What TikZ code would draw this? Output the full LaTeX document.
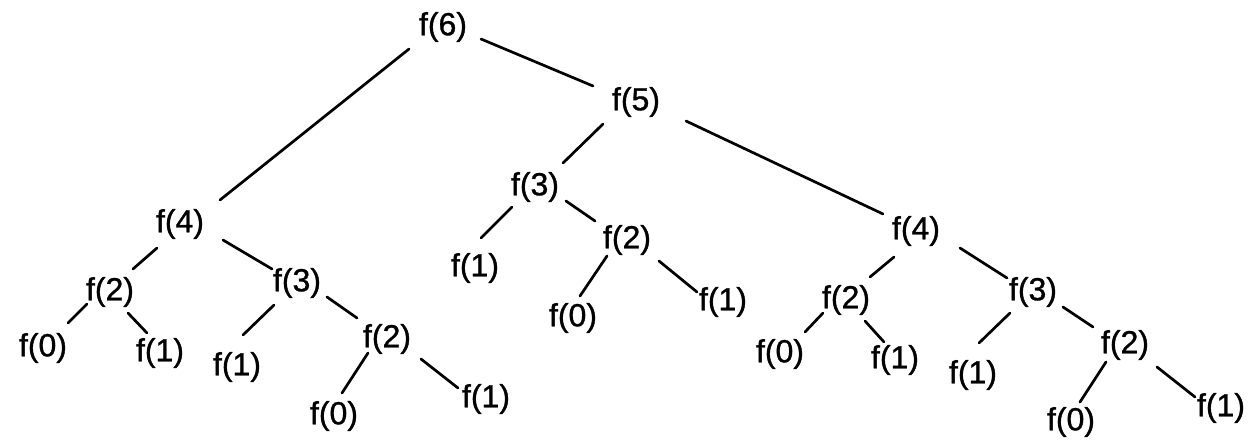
\documentclass[tikz,border=0pt]{standalone}
\usepackage{fontspec}
\setmainfont{Liberation Sans}
\newfontfamily\heavyfont[FakeBold=1]{Liberation Sans}
\begin{document}
\begin{tikzpicture}[x=1pt,y=-1pt,
  fn/.style={inner sep=0pt,outer sep=0pt,font=\heavyfont\fontsize{32}{38}\selectfont},
  edge/.style={line width=2.7pt,line cap=round}]
\useasboundingbox[fill=white] (0,0) rectangle (1255,442);
% nodes
\node[fn] (n6) at (443,27) {f(6)};
\node[fn] (n5) at (636,102) {f(5)};
\node[fn] (a4) at (180,224) {f(4)};
\node[fn] (a2) at (110,292) {f(2)};
\node[fn] (a3) at (297,283) {f(3)};
\node[fn] (a20) at (43,348) {f(0)};
\node[fn] (a21) at (160,353) {f(1)};
\node[fn] (a31) at (237,367) {f(1)};
\node[fn] (a32) at (387,339) {f(2)};
\node[fn] (a320) at (334,416) {f(0)};
\node[fn] (a321) at (486,399) {f(1)};
\node[fn] (b3) at (535,187) {f(3)};
\node[fn] (b31) at (475,268) {f(1)};
\node[fn] (b32) at (627,240) {f(2)};
\node[fn] (b320) at (573,318) {f(0)};
\node[fn] (b321) at (723,302) {f(1)};
\node[fn] (c4) at (916,231) {f(4)};
\node[fn] (c2) at (846,300) {f(2)};
\node[fn] (c20) at (780,354) {f(0)};
\node[fn] (c21) at (895,360) {f(1)};
\node[fn] (c3) at (1033,292) {f(3)};
\node[fn] (c31) at (973,375) {f(1)};
\node[fn] (c32) at (1125,345) {f(2)};
\node[fn] (c320) at (1071,422) {f(0)};
\node[fn] (c321) at (1221,408) {f(1)};
% connectors
\draw[edge] ([shift={(-34,22)}]n6.center) -- ([shift={(40,-24)}]a4.center);
\draw[edge] ([shift={(38,12)}]n6.center) -- ([shift={(-43,-16)}]n5.center);
\draw[edge] ([shift={(-23,24)}]a4.center) -- ([shift={(23,-23)}]a2.center);
\draw[edge] ([shift={(43,16)}]a4.center) -- ([shift={(-25,-14)}]a3.center);
\draw[edge] ([shift={(-23,12)}]a2.center) -- ([shift={(25,-25)}]a20.center);
\draw[edge] ([shift={(18,21)}]a2.center) -- ([shift={(-13,-20)}]a21.center);
\draw[edge] ([shift={(-23,22)}]a3.center) -- ([shift={(6,-32)}]a31.center);
\draw[edge] ([shift={(30,14)}]a3.center) -- ([shift={(-30,-21)}]a32.center);
\draw[edge] ([shift={(-19,14)}]a32.center) -- ([shift={(8,-23)}]a320.center);
\draw[edge] ([shift={(34,20)}]a32.center) -- ([shift={(-28,-11)}]a321.center);
\draw[edge] ([shift={(-33,22)}]n5.center) -- ([shift={(28,-24)}]b3.center);
\draw[edge] ([shift={(50,19)}]n5.center) -- ([shift={(-33,-17)}]c4.center);
\draw[edge] ([shift={(-23,20)}]b3.center) -- ([shift={(6,-30)}]b31.center);
\draw[edge] ([shift={(31,14)}]b3.center) -- ([shift={(-32,-19)}]b32.center);
\draw[edge] ([shift={(-20,16)}]b32.center) -- ([shift={(7,-22)}]b320.center);
\draw[edge] ([shift={(32,21)}]b32.center) -- ([shift={(-26,-10)}]b321.center);
\draw[edge] ([shift={(-22,26)}]c4.center) -- ([shift={(24,-23)}]c2.center);
\draw[edge] ([shift={(44,17)}]c4.center) -- ([shift={(-26,-14)}]c3.center);
\draw[edge] ([shift={(-23,13)}]c2.center) -- ([shift={(25,-22)}]c20.center);
\draw[edge] ([shift={(19,21)}]c2.center) -- ([shift={(-11,-18)}]c21.center);
\draw[edge] ([shift={(-23,21)}]c3.center) -- ([shift={(6,-32)}]c31.center);
\draw[edge] ([shift={(30,15)}]c3.center) -- ([shift={(-32,-18)}]c32.center);
\draw[edge] ([shift={(-19,17)}]c32.center) -- ([shift={(9,-20)}]c320.center);
\draw[edge] ([shift={(32,22)}]c32.center) -- ([shift={(-26,-11)}]c321.center);
\end{tikzpicture}
\end{document}
